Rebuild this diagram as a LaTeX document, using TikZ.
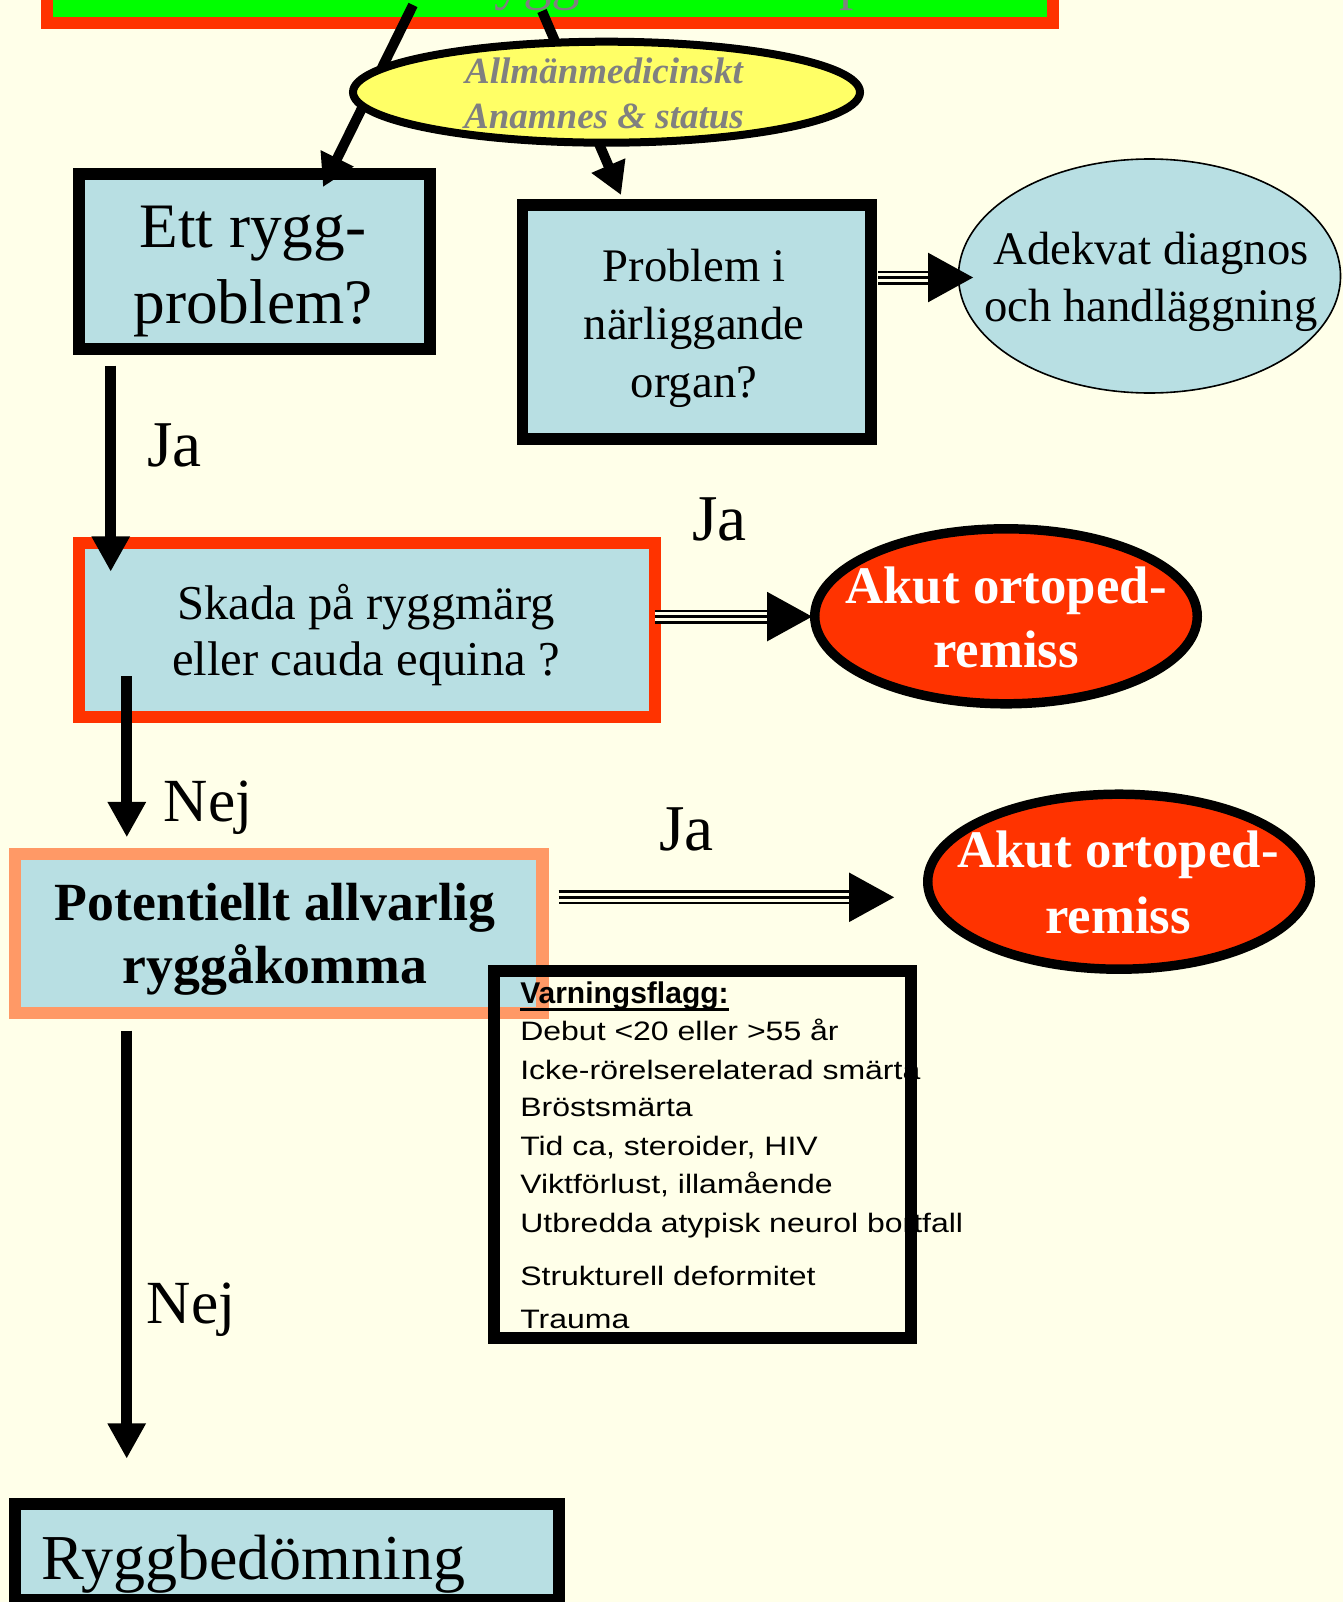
\documentclass[tikz,border=0pt]{standalone}
\usepackage{fontspec}
\setmainfont{Liberation Serif}
\newfontfamily\flagfont[FakeStretch=1.2]{Liberation Sans}
\newfontfamily\flagbold{Liberation Sans}
\usetikzlibrary{arrows.meta,shapes.geometric}
\definecolor{bgc}{RGB}{255,255,233}
\definecolor{lblue}{RGB}{184,223,227}
\definecolor{redc}{RGB}{255,51,0}
\definecolor{salmon}{RGB}{255,153,102}
\definecolor{yell}{RGB}{255,255,102}
\definecolor{greenc}{RGB}{0,255,0}
\definecolor{grayt}{RGB}{128,128,128}
\begin{document}
\begin{tikzpicture}[x=0.75pt,y=-0.75pt,
  box/.style={draw=black, rectangle, line width=9pt, fill=lblue, inner sep=0},
  txt/.style={anchor=base, align=center, inner sep=0},
  lbl/.style={anchor=base west, inner sep=0, font=\fontsize{46}{55}\selectfont},
  flagline/.style={anchor=base west, inner sep=0, font=\flagfont\fontsize{20}{24}\selectfont},
  tarr/.style={line width=7.5pt, -{Triangle[length=24pt,width=26pt]}},
  varr/.style={line width=8.5pt, -{Triangle[length=26.5pt,width=27pt]}},
  triout/.style={line width=10.5pt, -{Triangle[length=34.5pt,width=34.5pt]}},
  trigap/.style={draw=bgc, line width=6.4pt, shorten >=34.4pt},
  trimid/.style={draw=black, line width=2.4pt, shorten >=34.4pt},
  akut/.style={draw=black, ellipse, line width=7.1pt, fill=redc, inner sep=0,
    minimum width=286.9pt, minimum height=131.25pt},
  akuttxt/.style={txt, text=white, font=\bfseries\fontsize{39.6}{47.6}\selectfont}]

\fill[bgc] (0,0) rectangle (1343,1602);
\useasboundingbox (0,0) rectangle (1343,1602);

% title box (mostly above the page)
\node[draw=redc, fill=greenc, line width=9pt, rectangle, inner sep=0,
  minimum width=754.5pt, minimum height=92.5pt] (title) at (550,-38.35) {};
\node[anchor=base west, inner sep=0, text=grayt, font=\fontsize{42.75}{50}\selectfont]
  (titletext) at (347,-1) {Akut ryggsmärta hos patient};

% first row boxes
\node[box, minimum width=263.4pt, minimum height=131.6pt] (ett) at (254.4,261.25) {};
\node[txt, font=\fontsize{47.5}{57}\selectfont] (ettT) at (253,323) {Ett rygg-\\problem?};

\node[box, line width=8.6pt, minimum width=261.4pt, minimum height=175.5pt] (prob) at (696.75,322) {};
\node[txt, font=\fontsize{35}{43.2}\selectfont] (probT) at (694,397) {Problem i\\närliggande\\organ?};

\node[draw=black, ellipse, fill=lblue, line width=1.2pt, inner sep=0,
  minimum width=286.5pt, minimum height=175.5pt] (adek) at (1149.5,276) {};
\node[txt, font=\fontsize{35}{42.75}\selectfont] (adekT) at (1151,321) {Adekvat diagnos\\och handläggning};

% arrows from the title
\coordinate (t1s) at (413,5);
\coordinate (t1e) at (323,187);
\coordinate (t2s) at (542,11);
\coordinate (t2e) at (621,195);
\draw[tarr] (t1s) -- (t1e);
\draw[tarr] (t2s) -- (t2e);

% yellow ellipse
\node[draw=black, ellipse, fill=yell, line width=6pt, inner sep=0,
  minimum width=380.25pt, minimum height=75.75pt] (allm) at (606.5,92.2) {};
\node[txt, text=grayt, font=\bfseries\itshape\fontsize{27.75}{33.75}\selectfont]
  (allmT) at (604,128) {Allmänmedicinskt\\Anamnes \& status};

% second row
\node[box, draw=redc, minimum width=431.9pt, minimum height=130.3pt] (skada) at (366.75,629.85) {};
\node[txt, font=\fontsize{36.5}{42}\selectfont] (skadaT) at (366,675) {Skada på ryggmärg\\eller cauda equina ?};

\node[akut] (akut1) at (1006,616.3) {};
\node[akuttxt] (akut1T) at (1006,667) {Akut ortoped-\\remiss};

% third row
\node[box, draw=salmon, line width=9.4pt, minimum width=395.6pt, minimum height=119.25pt] (pot) at (278.75,933.5) {};
\node[txt, font=\bfseries\fontsize{40.3}{47.25}\selectfont] (potT) at (275,983) {Potentiellt allvarlig\\ryggåkomma};

\node[akut] (akut2) at (1119,881.7) {};
\node[akuttxt, font=\bfseries\fontsize{39.6}{48.8}\selectfont] (akut2T) at (1118,933) {Akut ortoped-\\remiss};

% bottom box
\node[box, minimum width=408.2pt, minimum height=72.4pt] (rygg) at (286.85,1551.75) {};
\node[anchor=base west, inner sep=0, font=\fontsize{48}{54}\selectfont] (ryggT) at (41,1579.6) {Ryggbedömning};

% vertical arrows
\coordinate (aS) at (110.7,365.7);
\coordinate (aE) at (110.7,571.7);
\coordinate (bS) at (126.8,676);
\coordinate (bE) at (126.8,837.3);
\coordinate (cS) at (126.7,1030.7);
\coordinate (cE) at (126.7,1458.7);
\draw[varr] (aS) -- (aE);
\draw[varr] (bS) -- (bE);
\draw[varr] (cS) -- (cE);

% triple-line arrows
\coordinate (p1s) at (878,277.5);
\coordinate (p1e) at (974,277.5);
\coordinate (p2s) at (655,616.6);
\coordinate (p2e) at (813,616.6);
\coordinate (p3s) at (558.5,897.3);
\coordinate (p3e) at (895,897.3);
\foreach \s/\e in {p1s/p1e,p2s/p2e,p3s/p3e}{
  \draw[triout] (\s) -- (\e);
  \draw[trigap] (\s) -- (\e);
  \draw[trimid] (\s) -- (\e);
}

% warning flags
\node[anchor=base west, inner sep=0, font=\flagbold\bfseries\fontsize{22.5}{26}\selectfont] (fl0) at (520,1003.3) {Varningsflagg:};
\draw[line width=2pt] ([yshift=-4.5pt]fl0.base west) -- ([yshift=-4.5pt]fl0.base east);
\node[flagline] (fl1) at (520,1040.7) {Debut <20 eller >55 år};
\node[flagline] (fl2) at (520,1079) {Icke-rörelserelaterad smärta};
\node[flagline] (fl3) at (520,1116.7) {Bröstsmärta};
\node[flagline] (fl4) at (520,1155) {Tid ca, steroider, HIV};
\node[flagline] (fl5) at (520,1193.3) {Viktförlust, illamående};
\node[flagline] (fl6) at (520,1232.7) {Utbredda atypisk neurol bortfall};
\node[flagline] (fl7) at (520,1285) {Strukturell deformitet};
\node[flagline] (fl8) at (520,1328.3) {Trauma};
\node[draw=black, rectangle, line width=9pt, inner sep=0,
  minimum width=312.4pt, minimum height=274.9pt] (flagbox) at (702.75,1154.25) {};

% labels
\node[lbl, font=\fontsize{49}{55}\selectfont] (ja1) at (147,466) {Ja};
\node[lbl] (nej1) at (163.5,821.7) {Nej};
\node[lbl, font=\fontsize{49}{55}\selectfont] (ja2) at (692,540) {Ja};
\node[lbl, font=\fontsize{49}{55}\selectfont] (ja3) at (659,850) {Ja};
\node[lbl] (nej2) at (146.6,1323.6) {Nej};
\end{tikzpicture}
\end{document}
